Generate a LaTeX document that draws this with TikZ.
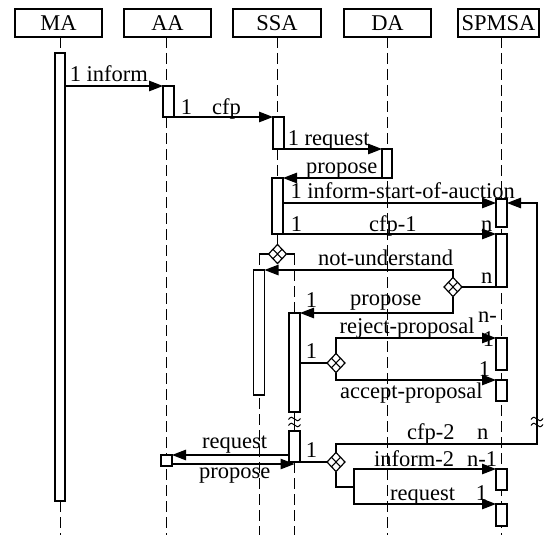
\documentclass[tikz,border=0pt]{standalone}
\usepackage{fontspec}
\setmainfont{Liberation Serif}
\usetikzlibrary{arrows.meta,shapes.geometric,calc}

\newcommand{\lblfont}{\fontsize{22.5}{25}\selectfont}

\tikzset{
  header/.style={draw, line width=1.2pt, minimum height=28pt, inner sep=0pt, outer sep=0pt, font=\lblfont},
  act/.style={draw, fill=white, line width=1.2pt, inner sep=0pt, outer sep=0pt},
  life/.style={line width=0.9pt, dash pattern=on 11pt off 5pt},
  wire/.style={line width=1.2pt},
  msg/.style={wire, -{Triangle[length=14pt,width=10.5pt]}},
  lbl/.style={anchor=base west, inner sep=0pt, font=\lblfont},
  xorgate/.style={shape=diamond, draw, fill=white, line width=1.2pt,
    minimum width=18pt, minimum height=19pt, inner sep=0pt, outer sep=0pt,
    path picture={\draw[line width=1.1pt]
      ($(path picture bounding box.north)!0.5!(path picture bounding box.east)$) --
      ($(path picture bounding box.south)!0.5!(path picture bounding box.west)$)
      ($(path picture bounding box.north)!0.5!(path picture bounding box.west)$) --
      ($(path picture bounding box.south)!0.5!(path picture bounding box.east)$);}},
}

% activation bar given by its corners: name, x1, y1, x2, y2
\newcommand{\actbar}[5]{%
  \node[act, minimum width={(#4)-(#2)}, minimum height={(#5)-(#3)}]
    (#1) at ({((#2)+(#4))/2},{((#3)+(#5))/2}) {};}

% break mark (two small waves) across a vertical line
\newcommand{\breakmark}[2]{%
  \foreach \dy in {-3,3}{
    \draw[line width=1pt] ({#1-6},{#2+\dy+0.5}) sin ({#1-3},{#2+\dy-1.8}) cos ({#1},{#2+\dy})
      sin ({#1+3},{#2+\dy+1.8}) cos ({#1+6},{#2+\dy-0.5});}}

\begin{document}
\begin{tikzpicture}[x=1pt, y=-1pt]
\useasboundingbox (0,0) rectangle (544,535);

% agents
\node[header, minimum width=87pt] (MA) at (58.5,23) {MA};
\node[header, minimum width=87pt] (AA) at (167.5,23) {AA};
\node[header, minimum width=88pt] (SSA) at (277,23) {SSA};
\node[header, minimum width=87pt] (DA) at (387.5,23) {DA};
\node[header, minimum width=81pt] (SPMSA) at (498.5,23) {SPMSA};

% lifelines
\coordinate (MAend) at (60,535);
\coordinate (AAend) at (166.7,535);
\coordinate (SSAx) at (277,178);
\coordinate (DAend) at (387,535);
\coordinate (SPend) at (501,535);
\coordinate (forkL) at (259,254);
\coordinate (forkR) at (294.5,254);
\coordinate (forkLend) at (259,535);
\coordinate (forkRend) at (294.5,535);
\draw[life] (MA.south -| MAend) -- (MAend);
\draw[life] (AA.south -| AAend) -- (AAend);
\draw[life] (SSA.south -| SSAx) -- (SSAx);
\draw[life] (DA.south -| DAend) -- (DAend);
\draw[life] (SPMSA.south -| SPend) -- (SPend);
\draw[life] (forkL) -- (forkLend);
\draw[life] (forkR) -- (forkRend);

% activation bars
\actbar{maA}{55}{53}{65}{501}
\actbar{aA1}{163}{86}{174}{117}
\actbar{sS1}{273}{117}{284}{149}
\actbar{dA1}{382}{149}{392}{178}
\actbar{sS2}{272}{178}{283}{234}
\actbar{sp1}{496}{199}{507}{227}
\actbar{sp2}{496}{234}{507}{287}
\actbar{sSL}{253.5}{270}{264.5}{395}
\actbar{sSR}{289}{313}{300}{412}
\actbar{sp3}{496}{338}{507}{370}
\actbar{sp4}{496}{380}{507}{401}
\actbar{sSR2}{289}{431}{300}{462}
\actbar{aAb}{161}{455}{172}{466}
\actbar{sp5}{496}{469}{507}{490}
\actbar{sp6}{496}{504}{507}{526}

% choice gates
\node[xorgate] (d1) at (277.5,254) {};
\node[xorgate] (d2) at (453,287) {};
\node[xorgate] (d3) at (336,363) {};
\node[xorgate] (d4) at (336,462) {};

% fork of the SSA lifeline
\draw[wire] (sS2.south) -- (d1.north);
\draw[wire] (forkL) -- (d1.west) (d1.east) -- (forkR);

% gap in the right branch
\draw[wire] (sSR.south) -- (sSR2.north);
\breakmark{294.5}{422}

% labels
\node[lbl] at (69.6,82) {1 inform};
\node[lbl] at (180.6,114) {1};
\node[lbl] at (212,114) {cfp};
\node[lbl] at (287.6,146) {1 request};
\node[lbl] at (306,173) {propose};
\node[lbl] at (290.3,198) {1 inform-start-of-auction};
\node[lbl] at (290.6,231) {1};
\node[lbl] at (369,231) {cfp-1};
\node[lbl] at (481,231) {n};
\node[lbl] at (318,265) {not-understand};
\node[lbl] at (481,283) {n};
\node[lbl] at (305.6,307) {1};
\node[lbl] at (350,305) {propose};
\node[lbl] at (478,322) {n-};
\node[lbl] at (339.5,333) {reject-proposal};
\node[lbl] at (482.6,346) {1};
\node[lbl] at (305.6,358) {1};
\node[lbl] at (478.6,376) {1};
\node[lbl] at (340,398) {accept-proposal};
\node[lbl] at (202,448) {request};
\node[lbl] at (199,478) {propose};
\node[lbl] at (305.6,457) {1};
\node[lbl] at (407,439) {cfp-2};
\node[lbl] at (477,439) {n};
\node[lbl] at (374,466) {inform-2};
\node[lbl] at (467,466) {n-1};
\node[lbl] at (390,500) {request};
\node[lbl] at (475.6,500) {1};

% messages
\coordinate (yISA) at (0,203);
\coordinate (yP2) at (0,464);
\coordinate (loopX) at (537,444);
\coordinate (split) at (354,487);
\draw[msg] (maA.east |- aA1.north) -- (aA1.north west);
\draw[msg] (aA1.south west) -- (sS1.north west);
\draw[msg] (sS1.south west) -- (dA1.north west);
\draw[msg] (dA1.south west) -- (sS2.north east);
\draw[msg] (sS2.east |- yISA) -- (sp1.west |- yISA);
\draw[msg] (sS2.south west) -- (sp2.north west);
\draw[wire] (sp2.south west) -- (d2.east);
\draw[msg] (d2.north) |- (sSL.north east);
\draw[msg] (d2.south) |- (sSR.north east);
\draw[wire] (sSR.east |- d3.west) -- (d3.west);
\draw[msg] (d3.north) |- (sp3.north west);
\draw[msg] (d3.south) |- (sp4.north west);
\draw[msg] (sSR2.west |- aAb.north) -- (aAb.north east);
\draw[msg] (aAb.east |- yP2) -- (sSR2.south |- yP2);
\draw[wire] (sSR2.south east) -- (d4.west);
\draw[msg] (d4.north) |- (loopX) |- (sp1.east |- yISA);
\breakmark{537}{422}
\draw[wire] (d4.south) |- (split);
\draw[msg] (split) |- (sp5.north west);
\draw[msg] (split) |- (sp6.north west);
\end{tikzpicture}
\end{document}
